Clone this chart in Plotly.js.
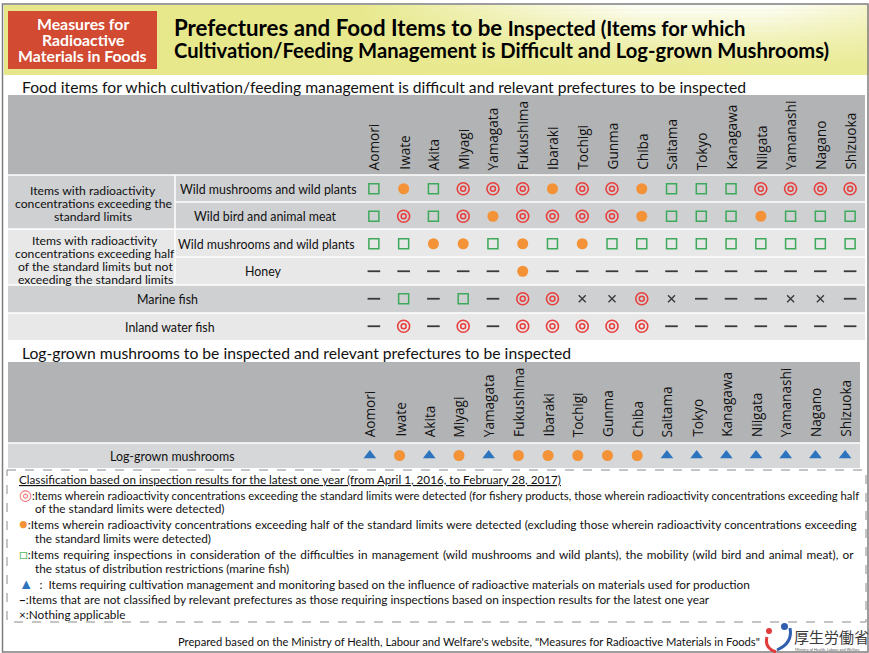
<!DOCTYPE html>
<html><head><meta charset="utf-8">
<script src="https://cdn.plot.ly/plotly-3.0.1.min.js"></script>
<style>html,body{margin:0;padding:0;background:#fff;}#chart{width:869px;height:653px;}</style>
</head><body><div id="chart"></div>
<script>
// ---------------- DATA ----------------
const prefectures = ["Aomori","Iwate","Akita","Miyagi","Yamagata","Fukushima","Ibaraki","Tochigi","Gunma","Chiba","Saitama","Tokyo","Kanagawa","Niigata","Yamanashi","Nagano","Shizuoka"];
// codes: D = ◎ exceeding standard limits, O = ● exceeding half, S = □ requiring inspection,
//        T = ▲ cultivation management, N = － not classified, X = × nothing applicable
const exceedWildMushrooms = ["S","O","S","D","D","D","O","D","D","O","S","S","S","D","D","D","D"];
const exceedWildMeat      = ["S","D","S","D","O","D","D","D","D","O","S","S","S","O","S","S","S"];
const halfWildMushrooms   = ["S","S","O","O","S","O","S","O","S","S","S","S","S","S","S","S","S"];
const halfHoney           = ["N","N","N","N","N","O","N","N","N","N","N","N","N","N","N","N","N"];
const marineFish          = ["N","S","N","S","N","D","D","X","X","D","X","N","N","N","X","X","N"];
const inlandWaterFish     = ["N","D","N","D","N","D","D","D","D","D","N","N","N","N","N","N","N"];
const logGrownMushrooms   = ["T","O","T","O","T","O","O","O","O","O","T","T","T","T","T","T","T"];
const table1Rows = [exceedWildMushrooms, exceedWildMeat, halfWildMushrooms, halfHoney, marineFish, inlandWaterFish];
const table2Rows = [logGrownMushrooms];
const groupLabels = [
  ["Items with radioactivity","concentrations exceeding the","standard limits"],
  ["Items with radioactivity","concentrations exceeding half","of the standard limits but not","exceeding the standard limits"]
];
const subLabels = ["Wild mushrooms and wild plants","Wild bird and animal meat","Wild mushrooms and wild plants","Honey"];
const fishLabels = ["Marine fish","Inland water fish"];
const logLabel = "Log-grown mushrooms";

// ---------------- STYLE ----------------
const FONT = "Lato, 'Noto Sans', sans-serif";
const HFONT = "'Open Sans', 'Noto Sans', sans-serif";
const symbolStyles = {
  D: [{symbol:'circle-open', size:12, color:'#e8403e', lw:1.6},{symbol:'circle-open', size:5, color:'#e8403e', lw:1.5}],
  O: [{symbol:'circle', size:11, color:'#f39236', lw:0}],
  S: [{symbol:'square-open', size:10, color:'#3da95a', lw:1.5}],
  T: [{symbol:'triangle-up', size:11, color:'#2c74bd', lw:0}],
  N: [{symbol:'line-ew-open', size:9, color:'#3a3a3a', lw:1.8}],
  X: [{symbol:'x-thin-open', size:7, color:'#3a3a3a', lw:1.4}]
};

function buildTraces(rows, xa, ya){
  const traces=[];
  Object.keys(symbolStyles).forEach(code=>{
    const xs=[], ys=[];
    rows.forEach((row,ri)=>row.forEach((c,ci)=>{ if(c===code){ xs.push(prefectures[ci]); ys.push(ri);} }));
    if(!xs.length) return;
    symbolStyles[code].forEach(st=>{
      traces.push({type:'scatter', mode:'markers', x:xs, y:ys, xaxis:xa, yaxis:ya, hoverinfo:'skip', showlegend:false, cliponaxis:false,
        marker:{symbol:st.symbol, size:st.size, color:st.color, line:{width:st.lw, color:st.color}}});
    });
  });
  return traces;
}

const traces = [];
// header band (yellow gradient)
traces.push({type:'scatter', mode:'lines', x:[4,869,869,4,4], y:[5,5,75,75,5], xaxis:'x', yaxis:'y', fill:'toself', line:{width:0}, hoverinfo:'skip', showlegend:false,
  fillgradient:{type:'horizontal', colorscale:[[0,'#e6e78a'],[0.5,'#e8e98e'],[1,'#eaeb96']]}});
const nStrips = 14;
for(let i=0;i<nStrips;i++){
  const y0 = 5 + i*4.5, y1 = y0 + 4.6;
  const a = 0.92*Math.pow(1 - i/nStrips, 1.3);
  traces.push({type:'scatter', mode:'lines', x:[360,869,869,360,360], y:[y0,y0,y1,y1,y0], xaxis:'x', yaxis:'y', fill:'toself', line:{width:0}, hoverinfo:'skip', showlegend:false,
    fillgradient:{type:'horizontal', colorscale:[[0,'rgba(255,255,255,0)'],[0.55,`rgba(255,255,255,${a})`],[0.8,`rgba(255,255,255,${a})`],[1,`rgba(255,255,255,${a*0.6})`]]}});
}
traces.push(...buildTraces(table1Rows,'x2','y2'));
traces.push(...buildTraces(table2Rows,'x3','y3'));

// ---------------- SHAPES ----------------
const shapes = [];
function rect(x0,y0,x1,y1,fill,opts){ shapes.push(Object.assign({type:'rect', xref:'x', yref:'y', x0,y0,x1,y1, fillcolor:fill, line:{width:0}, layer:'below'}, opts||{})); }
function hline(y,x0,x1,color,w){ shapes.push({type:'line', xref:'x', yref:'y', x0, x1, y0:y, y1:y, line:{color:color||'#fff', width:w||1.5}, layer:'below'}); }
function vline(x,y0,y1,color,w,xref){ shapes.push({type:'line', xref:xref||'x', yref:'y', x0:x, x1:x, y0, y1, line:{color:color||'#fff', width:w||1.5}, layer:'below'}); }

const HEAD='#b2b3b5', DARK='#cfd0d2', LIGHT='#e8e8e9';
// table 1
rect(8,95,865,175,HEAD);
rect(8,175,865,229,DARK);
rect(8,229,865,285,LIGHT);
rect(8,285,865,313,DARK);
rect(8,313,865,340,LIGHT);
hline(175,8,865); hline(202,175,865); hline(229,8,865); hline(257,175,865); hline(285,8,865); hline(313,8,865);
vline(175,175,285);
for(let i=0;i<=prefectures.length;i++) vline(i-0.5,95,340,'#fff',1.5,'x2');
// table 2
rect(8,362,860,443,HEAD);
rect(8,443,860,468,'#d6d7d9');
hline(443,8,860);
for(let i=0;i<=prefectures.length;i++) vline(i-0.5,362,468,'#fff',1.5,'x3');
// red box
shapes.push({type:'rect', xref:'x', yref:'y', x0:8, y0:11, x1:157, y1:69, fillcolor:'#d24a32', line:{width:0}, layer:'above'});
// outer frame
shapes.push({type:'rect', xref:'x', yref:'y', x0:2.5, y0:4, x1:868, y1:652, line:{color:'#7d7d7d', width:1.5}, fillcolor:'rgba(0,0,0,0)', layer:'above'});
// legend dashed box
shapes.push({type:'rect', xref:'x', yref:'y', x0:7, y0:470, x1:866, y1:622, line:{color:'#8a8a8a', width:1, dash:'dash'}, fillcolor:'rgba(0,0,0,0)', layer:'above'});
// logo (approximation of ministry emblem)
shapes.push({type:'circle', xref:'x', yref:'y', x0:766, y0:628, x1:772, y1:634, fillcolor:'#e23b3b', line:{width:0}, layer:'above'});
shapes.push({type:'circle', xref:'x', yref:'y', x0:781, y0:623, x1:788, y1:630, fillcolor:'#2f5fae', line:{width:0}, layer:'above'});
shapes.push({type:'path', xref:'x', yref:'y', path:'M 767 637 Q 764 648 776 652', line:{color:'#e23b3b', width:3}, layer:'above'});
shapes.push({type:'path', xref:'x', yref:'y', path:'M 790 628 Q 793 643 777 650', line:{color:'#2f5fae', width:3}, layer:'above'});

// ---------------- ANNOTATIONS ----------------
const ann = [];
function txt(x,y,text,size,o){ ann.push(Object.assign({xref:'x', yref:'y', x, y, text, showarrow:false, xanchor:'left', yanchor:'middle', font:{family:FONT, size, color:'#111'}}, o||{})); }

// red box text
[["Measures for",23],["Radioactive",39],["Materials in Foods",55]].forEach(([t,y])=>txt(82.5,y,`<b>${t}</b>`,15.8,{xanchor:'center', font:{family:FONT,size:15.8,color:'#fff'}}));
// title
txt(172,27,"<b>Prefectures and Food Items to be </b><b><span style='font-size:20.3px'>Inspected (Items for which</span></b>",22.3,{font:{family:FONT,size:22.3,color:'#000'}});
txt(172,50,"<b>Cultivation/Feeding Management is Difficult and Log-grown Mushrooms)</b>",20.2,{font:{family:FONT,size:20.2,color:'#000'}});
// section headings
txt(20,87,"Food items for which cultivation/feeding management is difficult and relevant prefectures to be inspected",15.7,{font:{family:FONT,size:15.7,color:'#111'}});
txt(20,353,"Log-grown mushrooms to be inspected and relevant prefectures to be inspected",15.7,{font:{family:FONT,size:15.7,color:'#111'}});
// prefecture headers
prefectures.forEach(p=>{
  ann.push({xref:'x2', yref:'y', x:p, y:172, text:p, showarrow:false, textangle:-90, xanchor:'center', yanchor:'bottom', font:{family:HFONT, size:13.6, color:'#111'}});
  ann.push({xref:'x3', yref:'y', x:p, y:439, text:p, showarrow:false, textangle:-90, xanchor:'center', yanchor:'bottom', font:{family:HFONT, size:13.6, color:'#111'}});
});
// group labels
groupLabels[0].forEach((t,i)=>txt(93,190+i*13,t,12.2,{xanchor:'center'}));
groupLabels[1].forEach((t,i)=>txt(95,240+i*13,t,12.2,{xanchor:'center'}));
// sub labels (row names)
const subX=[268.5,265,266,263], subY=[189.5,216,244.5,271];
subLabels.forEach((t,i)=>txt(subX[i],subY[i],t,12.4,{xanchor:'center'}));
txt(167,299.5,fishLabels[0],12.4,{xanchor:'center'});
txt(170,327,fishLabels[1],12.4,{xanchor:'center'});
txt(172,456,logLabel,12.4,{xanchor:'center'});

// legend box text
txt(17,479,"<u>Classification based on inspection results for the latest one year (from April 1, 2016, to February 28, 2017)</u>",11.7);
const sym = (c,color)=>`<span style='color:${color};font-size:14.5px'>${c}</span>`;
const legendLines = [
  [494,sym('◎','#ee6a6a')+":Items wherein radioactivity concentrations exceeding the standard limits were detected (for fishery products, those wherein radioactivity concentrations exceeding half",17,11.3,0],
  [508.5,"of the standard limits were detected)",33,11.8,0],
  [523.5,sym('●','#f39236')+":Items wherein radioactivity concentrations exceeding half of the standard limits were detected (excluding those wherein radioactivity concentrations exceeding",17,11.8,0.4],
  [538,"the standard limits were detected)",33,11.8,0],
  [553,sym('□','#5cb85c')+":Items requiring inspections in consideration of the difficulties in management (wild mushrooms and wild plants), the mobility (wild bird and animal meat), or",17,11.8,1.2],
  [568,"the status of distribution restrictions (marine fish)",33,11.8,0],
  [583.5,sym('▲','#2c74bd')+"  :  Items requiring cultivation management and monitoring based on the influence of radioactive materials on materials used for production",17,11.8,0],
  [599,"<b>−</b>:Items that are not classified by relevant prefectures as those requiring inspections based on inspection results for the latest one year",17,11.8,0],
  [614,"×:Nothing applicable",17,11.8,0]
];
legendLines.forEach(([y,t,x,s,ws])=>txt(x,y, ws ? `<span style='word-spacing:${ws}px'>${t}</span>` : t, s));
// footer
txt(762,641,"Prepared based on the Ministry of Health, Labour and Welfare's website, \"Measures for Radioactive Materials in Foods\"",11.2,{xanchor:'right'});
txt(792,636,"厚生労働省",15,{font:{family:"'Noto Sans CJK JP', sans-serif",size:15,color:'#3a3a3a'}});
txt(793,649.5,"Ministry of Health, Labour and Welfare",3.8,{font:{family:FONT,size:3.8,color:'#555'}});

const layout = {
  width:869, height:653, margin:{l:0,r:0,t:0,b:0},
  paper_bgcolor:'#ffffff', plot_bgcolor:'rgba(0,0,0,0)', showlegend:false,
  xaxis:{range:[0,869], domain:[0,1], visible:false, fixedrange:true},
  yaxis:{range:[653,0], domain:[0,1], visible:false, fixedrange:true},
  xaxis2:{type:'category', categoryorder:'array', categoryarray:prefectures, range:[-0.5,16.5], domain:[359/869,865/869], anchor:'y2', visible:false, fixedrange:true},
  yaxis2:{range:[5.5,-0.5], domain:[1-340/653,1-175/653], anchor:'x2', visible:false, fixedrange:true},
  xaxis3:{type:'category', categoryorder:'array', categoryarray:prefectures, range:[-0.5,16.5], domain:[355/869,860/869], anchor:'y3', visible:false, fixedrange:true},
  yaxis3:{range:[0.5,-0.5], domain:[1-468/653,1-443/653], anchor:'x3', visible:false, fixedrange:true},
  shapes, annotations:ann
};
Plotly.newPlot('chart', traces, layout, {staticPlot:true, displayModeBar:false});
</script></body></html>
